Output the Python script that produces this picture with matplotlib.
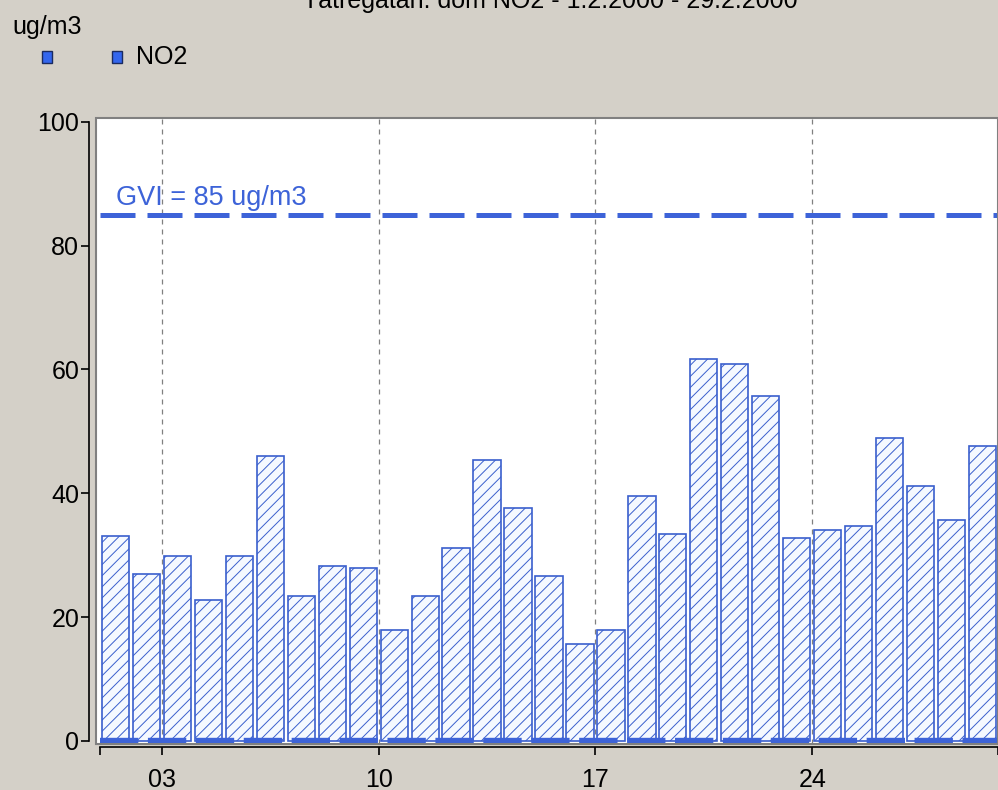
import numpy as np
import matplotlib
matplotlib.use("Agg")
import matplotlib.pyplot as plt
from matplotlib.patches import Rectangle

# daily NO2 values, February 2000
days = np.arange(1, 30)
no2 = [33.1, 27.0, 29.9, 22.8, 29.9, 46.0, 23.4, 28.3, 27.9, 17.9,
       23.4, 31.2, 45.4, 37.6, 26.7, 15.7, 17.9, 39.6, 33.4, 61.7,
       60.9, 55.7, 32.8, 34.1, 34.7, 48.9, 41.2, 35.7, 47.7]
gvi = 85
tick_days = [1, 3, 10, 17, 24, 30]
tick_labels = ["", "03", "10", "17", "24", ""]
yticks = [0, 20, 40, 60, 80, 100]

bg = "#d4d0c8"
blue = "#3d63d8"
edge = "#3a5fcd"

plt.rcParams["font.family"] = ["Liberation Sans", "DejaVu Sans"]
plt.rcParams["hatch.linewidth"] = 0.7

fig = plt.figure(figsize=(9.98, 7.9), dpi=100, facecolor=bg)
ax = fig.add_axes([96 / 998, 1 - 744 / 790, 902 / 998, 626 / 790])
ax.set_facecolor("white")

ax.bar(days + 0.5, no2, width=0.88, color="#f5f9ff", edgecolor=edge,
       linewidth=1.2, hatch="///", zorder=2)

# limit line and zero line
ax.plot([1, 30], [gvi, gvi], color=blue, lw=3.6, dashes=(7, 2.4), zorder=3)
ax.plot([1, 30], [0, 0], color=blue, lw=4.6, dashes=(6, 1.5), zorder=3,
        clip_on=False)
ax.text(1.5, gvi + 0.6, "GVI = 85 ug/m3", color=blue, fontsize=19.5,
        va="bottom", ha="left", zorder=4)

# vertical grid at labelled days
for d in tick_days[1:-1]:
    ax.axvline(d, color="#808080", lw=0.9, dashes=(4, 4), zorder=1)

ax.set_xlim(0.87, 30)
ax.set_ylim(-0.5, 100.6)

for s in ["top", "right"]:
    ax.spines[s].set_visible(False)
ax.spines["left"].set_position(("outward", 5))
ax.spines["bottom"].set_position(("outward", 2))
ax.spines["left"].set_bounds(0, 100)
ax.spines["bottom"].set_bounds(1, 30)
ax.spines["left"].set_linewidth(1.2)
ax.spines["bottom"].set_linewidth(1.2)

ax.add_patch(Rectangle((0, 0), 1, 1, transform=ax.transAxes, fill=False,
                       edgecolor="#808080", lw=1.5, clip_on=False, zorder=5))

ax.set_yticks(yticks)
ax.set_yticklabels([str(v) for v in yticks], fontsize=18)
ax.set_xticks(tick_days)
ax.set_xticklabels(tick_labels, fontsize=18)
ax.tick_params(axis="both", length=6, width=1.2, color="black")
ax.tick_params(axis="x", pad=9)
ax.tick_params(axis="y", pad=1)

# header texts and legend
fig.text(550 / 998, 1 - 8 / 790, "Tätregatan: dom NO2 - 1.2.2000 - 29.2.2000",
         ha="center", va="baseline", fontsize=18)
fig.text(12 / 998, 1 - 27 / 790, "ug/m3", ha="left", va="center", fontsize=18)
for x0 in [42, 112]:
    fig.add_artist(Rectangle((x0 / 998, 1 - 63 / 790), 10 / 998, 12 / 790,
                             transform=fig.transFigure, facecolor="#3366ee",
                             edgecolor="#1a2a60", lw=1))
fig.text(136 / 998, 1 - 57 / 790, "NO2", ha="left", va="center", fontsize=18)

fig.savefig("out.png", dpi=100, facecolor=bg)
